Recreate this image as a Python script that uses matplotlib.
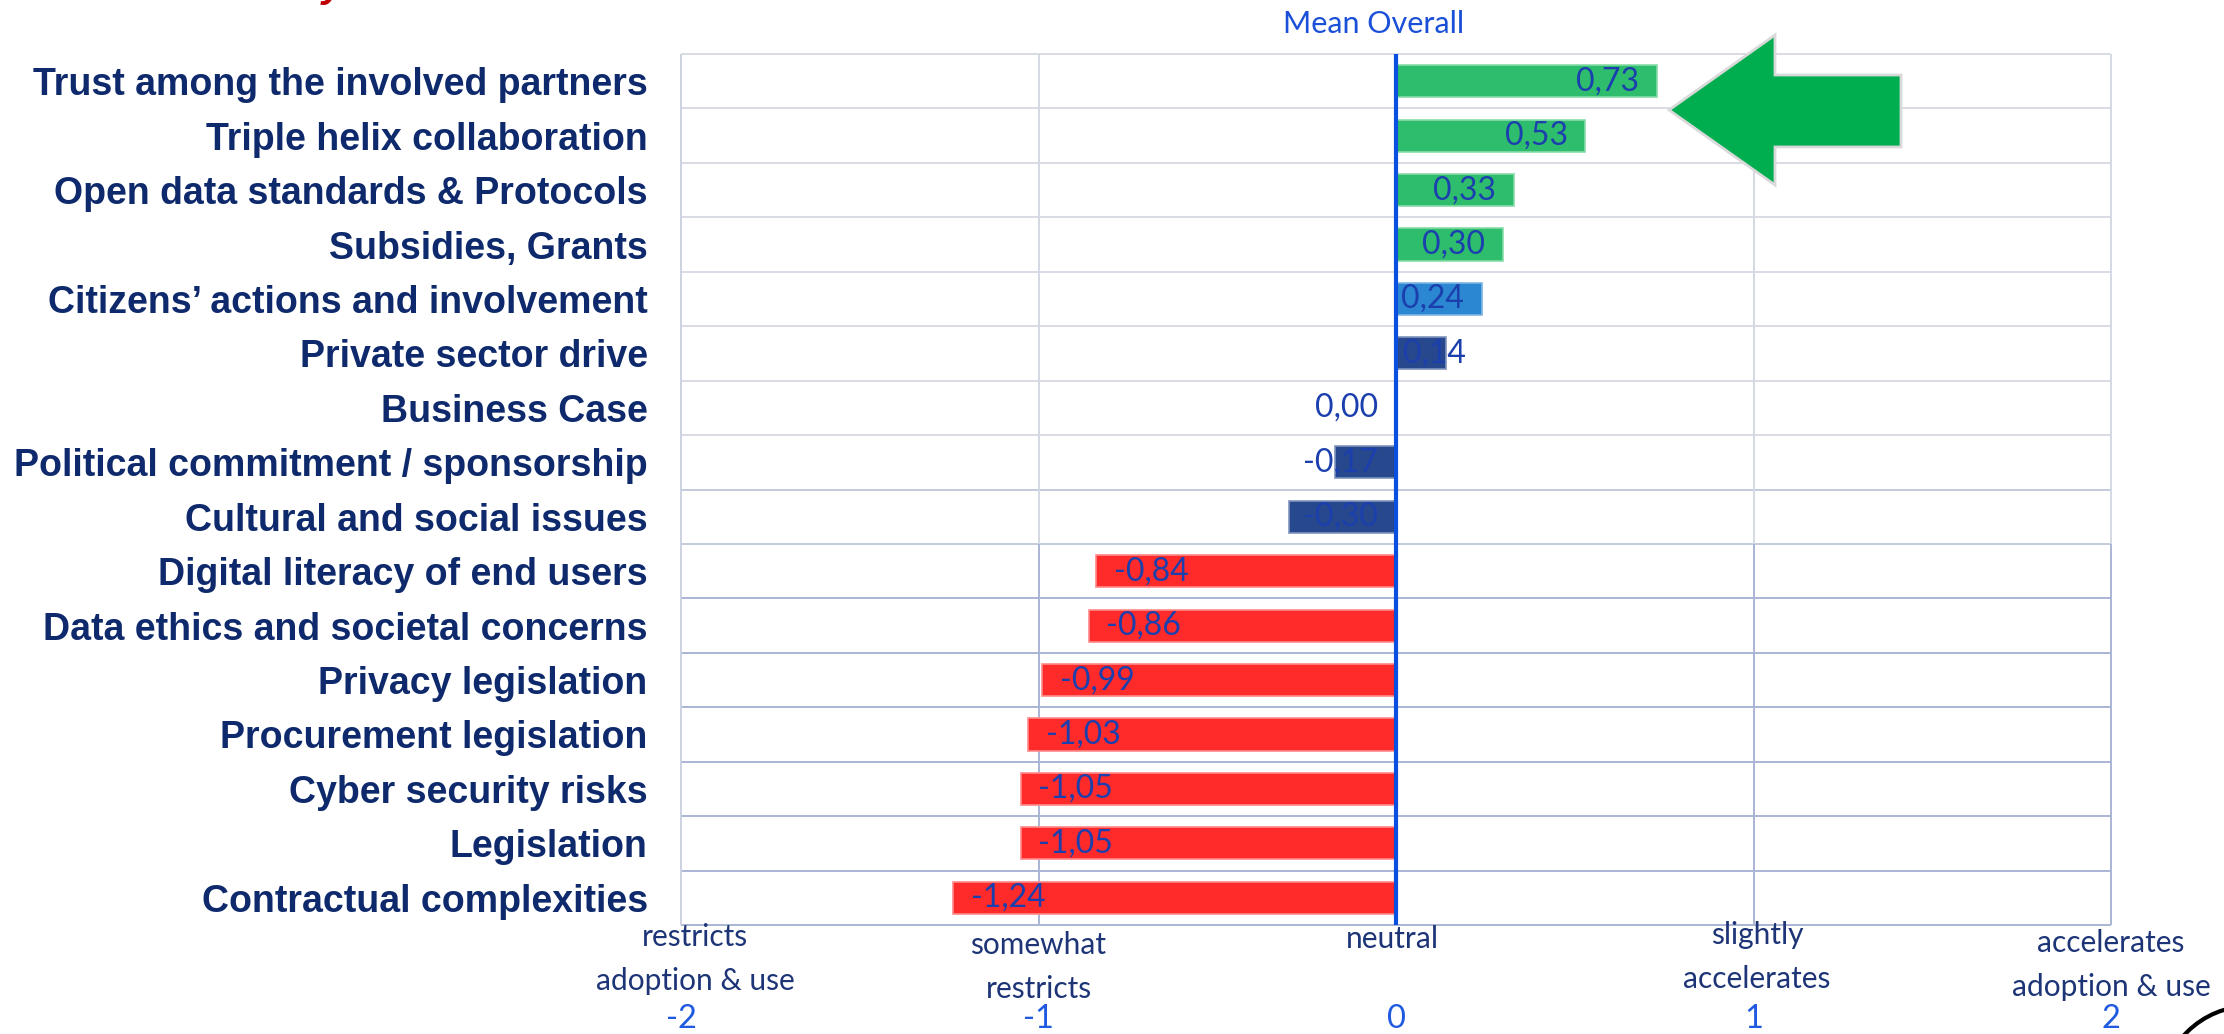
import matplotlib
matplotlib.use("Agg")
import matplotlib.pyplot as plt
from matplotlib.patches import Polygon, Circle
from matplotlib.transforms import blended_transform_factory

# data, top row first
factors = ["Trust among the involved partners", "Triple helix collaboration",
           "Open data standards & Protocols", "Subsidies, Grants",
           "Citizens\u2019 actions and involvement", "Private sector drive",
           "Business Case", "Political commitment / sponsorship",
           "Cultural and social issues", "Digital literacy of end users",
           "Data ethics and societal concerns", "Privacy legislation",
           "Procurement legislation", "Cyber security risks", "Legislation",
           "Contractual complexities"]
mean_overall = [0.73, 0.53, 0.33, 0.30, 0.24, 0.14, 0.00, -0.17, -0.30,
                -0.84, -0.86, -0.99, -1.03, -1.05, -1.05, -1.24]
scale_ticks = [-2, -1, 0, 1, 2]
scale_labels = ["restricts\nadoption & use", "somewhat\nrestricts", "neutral",
                "slightly\naccelerates", "accelerates\nadoption & use"]

GREEN, MID, NAVY, RED = "#2dbd6c", "#2b87d1", "#27488c", "#ff2a2a"
bar_colors = [GREEN] * 4 + [MID] + [NAVY] * 4 + [RED] * 7
edge_colors = {GREEN: "#86dba8", MID: "#7fb5e3", NAVY: "#7f93bd", RED: "#ff8a8a"}

LABEL_FONT = ["Liberation Sans", "DejaVu Sans"]
NUM_FONT = ["Lato", "DejaVu Sans"]

W, H = 2224, 1034
fig = plt.figure(figsize=(W / 100, H / 100), dpi=100)
ax = fig.add_axes([681 / W, 1 - 925 / H, (2111 - 681) / W, (925 - 54) / H])

n = len(factors)
rows = list(range(n))

# row separators / grid
for k in range(n + 1):
    if k <= 7:
        c = "#d9dce5"
    elif k <= 9:
        c = "#c3cadd"
    else:
        c = "#a9b5d3"
    ax.hlines(k - 0.5, -2, 2, color=c, lw=1.4, zorder=1, clip_on=False)
for x in (-1, 1, 2):
    ax.vlines(x, -0.5, 8.5, color="#d3d8e4", lw=1.4, zorder=1, clip_on=False)
    ax.vlines(x, 8.5, n - 0.5, color="#a9b5d3", lw=1.4, zorder=1, clip_on=False)
ax.vlines(-2, -0.5, n - 0.5, color="#cdd2e2", lw=1.4, zorder=1, clip_on=False)

ax.barh(rows, mean_overall, height=0.59, color=bar_colors,
        edgecolor=[edge_colors[c] for c in bar_colors], linewidth=1.2, zorder=3)
ax.axvline(0, color="#0a50e0", lw=3, zorder=4)

for i, v in enumerate(mean_overall):
    txt = f"{v:.2f}".replace(".", ",")
    if v >= 0.2:
        x, ha = v - 0.05, "right"
    elif v > 0:
        x, ha = 0.02, "left"
    elif v <= -0.5:
        x, ha = v + 0.05, "left"
    else:
        x, ha = -0.05, "right"
    ax.text(x, i, txt, ha=ha, va="center", fontsize=23, color="#1c3fae",
            family=NUM_FONT, zorder=5)

ax.set_xlim(-2, 2)
ax.set_ylim(n - 0.5, -0.5)
for s in ax.spines.values():
    s.set_visible(False)

ax.set_yticks(rows)
ax.set_yticklabels(factors, fontsize=27, fontweight="bold", color="#0e2a6c",
                   family=LABEL_FONT)
ax.tick_params(axis="y", length=0, pad=24)

ax.set_xticks(scale_ticks)
ax.set_xticklabels([str(t) for t in scale_ticks], fontsize=23.5, color="#1f5ae0",
                   family=NUM_FONT)
ax.tick_params(axis="x", length=0, pad=57)

# scale descriptions under the axis
trans = blended_transform_factory(ax.transData, fig.transFigure)
desc_x = [-1.96, -1, -0.01, 1.01, 2.0]
desc_y = [959, 967, 939, 957, 965]
for lbl, x, y in zip(scale_labels, desc_x, desc_y):
    ax.text(x, 1 - y / H, lbl, ha="center", va="center", fontsize=21.5,
            color="#1d3577", family=NUM_FONT, linespacing=1.7, transform=trans,
            clip_on=False)

fig.text(1374 / W, 1 - 24 / H, "Mean Overall", ha="center", va="center",
         fontsize=22, color="#1a50d8", family=NUM_FONT)

# highlight arrow next to the top bar
arrow_px = [(1669, 110), (1775, 35), (1775, 75), (1901, 75), (1901, 147),
            (1775, 147), (1775, 185)]
fig.add_artist(Polygon([(x / 100, (H - y) / 100) for x, y in arrow_px], closed=True,
                       facecolor="#00ad4f", edgecolor="#d9d9d9", lw=2,
                       transform=fig.dpi_scale_trans))

# cropped bits at the slide edges
fig.text(322 / W, 1 + 3 / H, "y", color="#c00000", fontsize=29, fontweight="bold",
         fontstyle="italic", family=LABEL_FONT, va="baseline")
fig.add_artist(Circle((22.50, -0.61), 0.89, fill=False, edgecolor="black", lw=3,
                      transform=fig.dpi_scale_trans))

fig.savefig("out.png", dpi=100)
